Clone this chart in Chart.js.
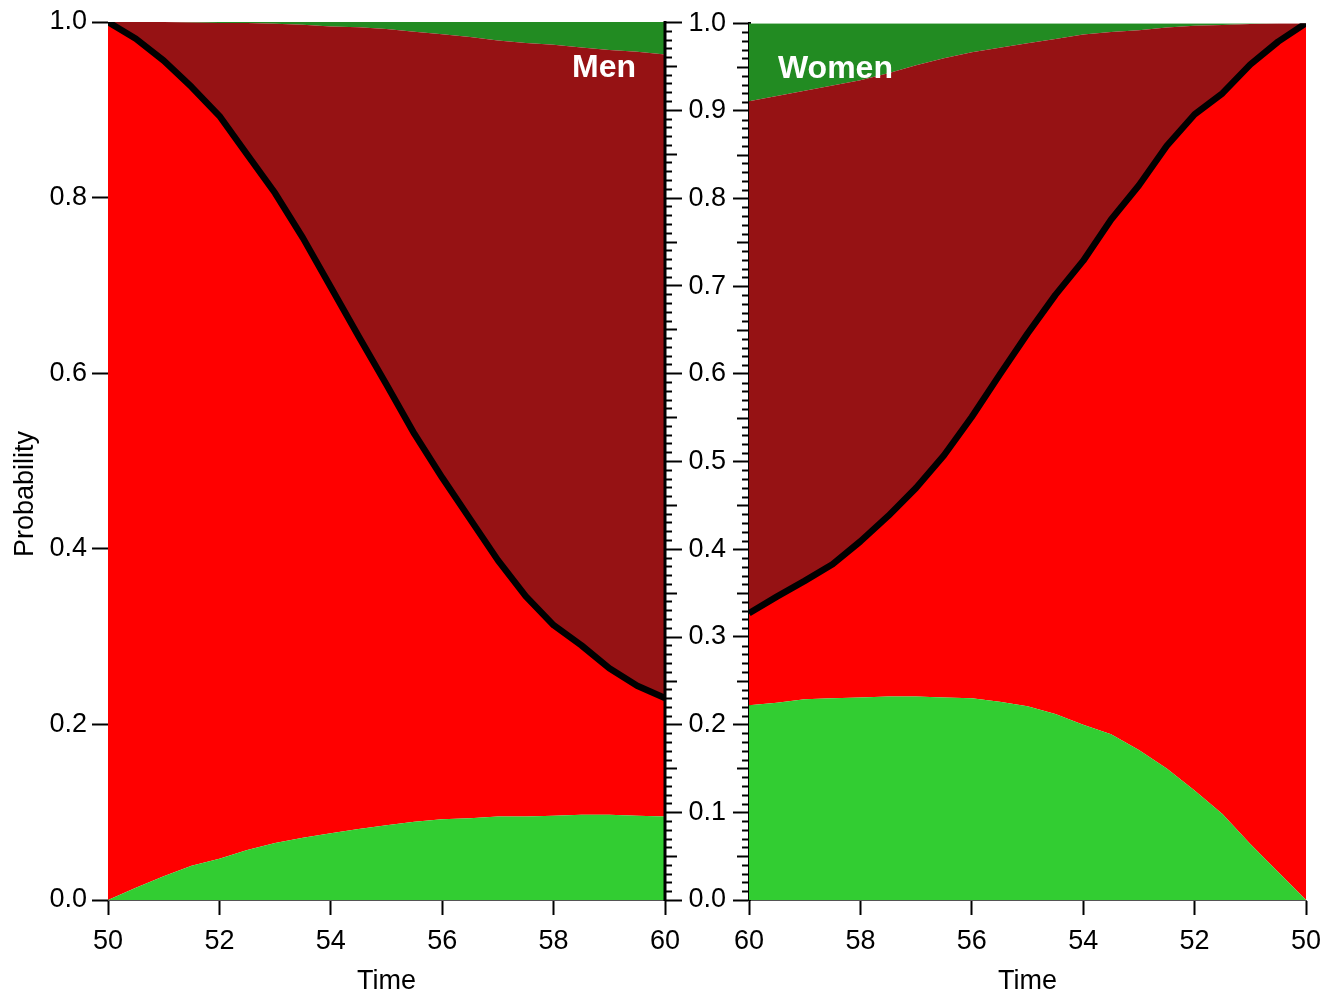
<!DOCTYPE html>
<html>
<head>
<meta charset="utf-8">
<script src="https://cdn.jsdelivr.net/npm/chart.js@4.4.1/dist/chart.umd.min.js"></script>
<style>
    body { margin: 0; background: #fff; }
    #lienzo { position: relative; width: 1338px; height: 992px; background: #fff; }
    canvas { position: absolute; top: 0; }
</style>
</head>
<body>
<div id="lienzo">
    <canvas id="graficaHombres" width="700" height="992" style="left:0"></canvas>
    <canvas id="graficaMujeres" width="698" height="992" style="left:640px"></canvas>
</div>
<script>
// Time grid (years) shared by both panels
const tiempos = [50, 50.5, 51, 51.5, 52, 52.5, 53, 53.5, 54, 54.5, 55, 55.5, 56, 56.5, 57, 57.5, 58, 58.5, 59, 59.5, 60];

// Men: cumulative probabilities (lower green, black line, dark red top)
const hombresSanos = [0, 0.014, 0.027, 0.039, 0.047, 0.057, 0.065, 0.071, 0.076, 0.081, 0.085, 0.089, 0.092, 0.093, 0.095, 0.095, 0.096, 0.097, 0.097, 0.096, 0.095];
const hombresLinea = [1.0, 0.981, 0.956, 0.926, 0.893, 0.849, 0.805, 0.754, 0.698, 0.642, 0.587, 0.531, 0.481, 0.434, 0.387, 0.346, 0.313, 0.290, 0.264, 0.244, 0.230];
const hombresSuperior = [1.0, 1.0, 1.0, 0.9995, 0.999, 0.999, 0.998, 0.997, 0.995, 0.994, 0.992, 0.989, 0.986, 0.983, 0.979, 0.976, 0.974, 0.971, 0.968, 0.966, 0.963];

// Women: same layers, axis runs from 60 down to 50
const mujeresSanas = [0, 0.032, 0.064, 0.098, 0.125, 0.150, 0.171, 0.189, 0.200, 0.212, 0.221, 0.226, 0.230, 0.231, 0.232, 0.232, 0.231, 0.230, 0.229, 0.225, 0.222];
const mujeresLinea = [1.0, 0.979, 0.953, 0.920, 0.896, 0.860, 0.815, 0.776, 0.729, 0.690, 0.646, 0.599, 0.551, 0.507, 0.470, 0.438, 0.409, 0.383, 0.364, 0.346, 0.327];
const mujeresSuperior = [1.0, 1.0, 0.999, 0.998, 0.997, 0.995, 0.992, 0.990, 0.987, 0.982, 0.977, 0.972, 0.967, 0.960, 0.952, 0.943, 0.935, 0.929, 0.923, 0.917, 0.911];

const ticksX = [50, 52, 54, 56, 58, 60];

const fuente = 'Liberation Sans, Arial, Helvetica, sans-serif';
const verdeClaro = '#32CD32';
const rojo = '#FF0000';
const rojoOscuro = '#961214';
const verdeOscuro = '#228B22';

function puntos(valores) {
    return tiempos.map((t, i) => ({ x: t, y: valores[i] }));
}

function capas(sanos, linea, superior) {
    return [
        { data: puntos(sanos), backgroundColor: verdeClaro, borderWidth: 0, fill: 'origin' },
        { data: puntos(linea), backgroundColor: rojo, borderColor: '#000', borderWidth: 6.5, borderJoinStyle: 'round', fill: '-1' },
        { data: puntos(superior), backgroundColor: rojoOscuro, borderWidth: 0, fill: '-1' },
        { data: puntos(superior), backgroundColor: verdeOscuro, borderWidth: 0, fill: 'end' }
    ];
}

// minor ticks (0.01) and half ticks (0.05) on the shared middle axis
function marcasMedias(lado) {
    return {
        id: 'marcasMedias' + lado,
        afterDraw(chart) {
            const ctx = chart.ctx;
            const y = chart.scales.y;
            const area = chart.chartArea;
            const x0 = lado === 'der' ? area.right : area.left;
            const dir = lado === 'der' ? 1 : -1;
            ctx.save();
            ctx.strokeStyle = '#000';
            ctx.lineWidth = 2;
            for (let i = 0; i <= 100; i++) {
                let largo = 7;
                if (i % 10 === 0) {
                    if (lado !== 'der') continue;
                    largo = 17;
                } else if (i % 5 === 0) {
                    largo = 12;
                }
                const py = Math.round(y.getPixelForValue(i / 100)) + 0.5;
                ctx.beginPath();
                ctx.moveTo(x0, py);
                ctx.lineTo(x0 + dir * largo, py);
                ctx.stroke();
            }
            if (lado === 'der') {
                ctx.lineWidth = 3;
                ctx.beginPath();
                ctx.moveTo(x0, y.getPixelForValue(0) + 1);
                ctx.lineTo(x0, y.getPixelForValue(1) - 1);
                ctx.stroke();
            }
            ctx.restore();
        }
    };
}

function rotulo(texto, t, p, alinear) {
    return {
        id: 'rotulo' + texto,
        afterDatasetsDraw(chart) {
            const ctx = chart.ctx;
            ctx.save();
            ctx.fillStyle = '#fff';
            ctx.font = 'bold 32px ' + fuente;
            ctx.textAlign = alinear;
            ctx.textBaseline = 'middle';
            ctx.fillText(texto, chart.scales.x.getPixelForValue(t), chart.scales.y.getPixelForValue(p));
            ctx.restore();
        }
    };
}

// y title sits a little below the middle of the axis, as in the original
const tituloY = {
    id: 'tituloY',
    afterDraw(chart) {
        const ctx = chart.ctx;
        ctx.save();
        ctx.translate(26, 494);
        ctx.rotate(-Math.PI / 2);
        ctx.fillStyle = '#000';
        ctx.font = '27px ' + fuente;
        ctx.textAlign = 'center';
        ctx.textBaseline = 'middle';
        ctx.fillText('Probability', 0, 0);
        ctx.restore();
    }
};

function opciones(invertido, ejeY) {
    return {
        responsive: false,
        animation: false,
        layout: { padding: invertido ? { top: 22, right: 32, left: 0, bottom: 0 } : { top: 22, right: 35, left: 0, bottom: 0 } },
        elements: { point: { radius: 0 }, line: { tension: 0 } },
        plugins: {
            legend: { display: false },
            tooltip: { enabled: false }
        },
        scales: {
            x: {
                type: 'linear',
                min: 50,
                max: 60,
                reverse: invertido,
                afterBuildTicks: (s) => { s.ticks = ticksX.map(v => ({ value: v })); },
                ticks: { color: '#000', font: { family: fuente, size: 27 }, padding: 10, maxRotation: 0, autoSkip: false },
                grid: { drawOnChartArea: false, tickLength: 15, tickWidth: 2, tickColor: '#000' },
                border: { color: '#555', width: 1 },
                title: { display: true, text: 'Time', color: '#000', font: { family: fuente, size: 27, lineHeight: 1 }, padding: { top: -3, bottom: -3 } },
                afterFit: (s) => { s.height = 92; }
            },
            y: ejeY
        }
    };
}

document.addEventListener('DOMContentLoaded', function () {
    const canvasH = document.getElementById('graficaHombres');
    const canvasM = document.getElementById('graficaMujeres');

    if (typeof Chart === 'undefined') return;

    new Chart(canvasH, {
        type: 'line',
        data: { datasets: capas(hombresSanos, hombresLinea, hombresSuperior) },
        options: opciones(false, {
            min: 0,
            max: 1,
            ticks: { stepSize: 0.2, callback: (v) => v.toFixed(1), color: '#000', font: { family: fuente, size: 27 }, padding: 5 },
            grid: { drawOnChartArea: false, tickLength: 16, tickWidth: 2, tickColor: '#000' },
            border: { color: '#555', width: 1 },
            afterFit: (s) => { s.width = 108; }
        }),
        plugins: [marcasMedias('der'), rotulo('Men', 59.48, 0.947, 'right'), tituloY]
    });

    new Chart(canvasM, {
        type: 'line',
        data: { datasets: capas(mujeresSanas, mujeresLinea, mujeresSuperior) },
        options: opciones(true, {
            min: 0,
            max: 1,
            ticks: { stepSize: 0.1, callback: (v) => v.toFixed(1), color: '#000', font: { family: fuente, size: 27 }, padding: 7 },
            grid: { drawOnChartArea: false, tickLength: 16, tickWidth: 2, tickColor: '#000' },
            border: { color: '#000', width: 3 },
            afterFit: (s) => { s.width = 109; }
        }),
        plugins: [marcasMedias('izq'), rotulo('Women', 59.48, 0.947, 'left')]
    });
});
</script>
</body>
</html>
